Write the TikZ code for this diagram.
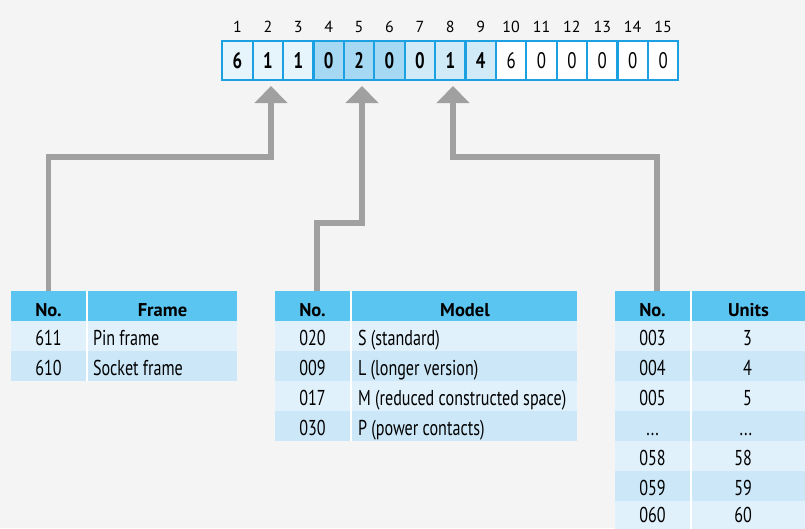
\documentclass[tikz,border=0pt]{standalone}
\usepackage{fontspec}
\setmainfont{PT Sans}[FakeStretch=0.75]
\newfontfamily\widefont{PT Sans}
\usetikzlibrary{arrows.meta,calc}
\definecolor{bg}{HTML}{F4F4F4}
\definecolor{cborder}{HTML}{1BA1E2}
\definecolor{hdr}{HTML}{5BC5F2}
\definecolor{rowA}{HTML}{E0F1FC}
\definecolor{rowB}{HTML}{CCE8F8}
\definecolor{fA}{HTML}{E6F4FC}
\definecolor{fB}{HTML}{A5D8F3}
\definecolor{fC}{HTML}{D0EAF8}
\definecolor{conncol}{HTML}{A0A0A0}
\begin{document}
\begin{tikzpicture}[x=1pt,y=-1pt,
  every node/.style={inner sep=0pt, outer sep=0pt},
  codecell/.style={draw=cborder, line width=2.3pt, minimum width=30.4pt, minimum height=39pt, text height=15.4pt, text depth=0pt},
  codebold/.style={font=\fontsize{22.5}{22.5}\selectfont\bfseries},
  codereg/.style={font=\fontsize{22.5}{22.5}\selectfont},
  idx/.style={font=\widefont\fontsize{16}{16}\selectfont, anchor=base},
  rowbg/.style={minimum height=30pt, minimum width=#1, anchor=north west},
  htext/.style={font=\widefont\fontsize{18.5}{18.5}\selectfont\bfseries, anchor=base, text depth=0pt},
  ctext/.style={font=\fontsize{21.5}{21.5}\selectfont, anchor=base, text depth=0pt},
  ltext/.style={font=\fontsize{21.5}{21.5}\selectfont, anchor=base west, text depth=0pt},
  rtext/.style={font=\fontsize{21.5}{21.5}\selectfont, anchor=base east, text depth=0pt},
  divider/.style={draw=white, line width=2pt},
  conn/.style={draw=conncol, line width=5.5pt, line join=miter,
    -{Triangle[width=32pt,length=17pt]}, shorten >=6pt}
]
\fill[bg] (0,0) rectangle (805,528);
\useasboundingbox (0,0) rectangle (805,528);

% ---- code boxes ----
\foreach \i/\d/\f in {1/6/fA,2/1/fA,3/1/fA,4/0/fB,5/2/fB,6/0/fB,7/0/fC,8/1/fC,9/4/fC}
  \node[codecell, codebold, fill=\f] (c\i) at ({222.3+30.4*(\i-0.5)},60.5) {\d};
\foreach \i/\d in {10/6,11/0,12/0,13/0,14/0,15/0}
  \node[codecell, codereg, fill=white] (c\i) at ({222.3+30.4*(\i-0.5)},60.5) {\d};
\foreach \i in {1,...,15}
  \node[idx] (n\i) at ({222.3+30.4*(\i-0.5)},32.7) {\i};

% ---- table 1 ----
\node[rowbg=226pt, fill=hdr]  (t1hdr) at (11,291) {};
\node[rowbg=226pt, fill=rowA] (t1r1) at (11,321) {};
\node[rowbg=226pt, fill=rowB] (t1r2) at (11,351) {};
\draw[divider] (t1hdr.north -| 87,0) -- (t1r2.south -| 87,0);
\node[htext] (t1no) at (48.5,316.5) {No.};
\node[htext] (t1h)  at (162.5,316.5) {Frame};
\node[ctext] (t1a1) at (48.5,345.5) {611};
\node[ltext] (t1b1) at (93,345.5) {Pin frame};
\node[ctext] (t1a2) at (48.5,375.5) {610};
\node[ltext] (t1b2) at (93,375.5) {Socket frame};

% ---- table 2 ----
\node[rowbg=302pt, fill=hdr]  (t2hdr) at (275,291) {};
\node[rowbg=302pt, fill=rowA] (t2r1) at (275,321) {};
\node[rowbg=302pt, fill=rowB] (t2r2) at (275,351) {};
\node[rowbg=302pt, fill=rowA] (t2r3) at (275,381) {};
\node[rowbg=302pt, fill=rowB] (t2r4) at (275,411) {};
\draw[divider] (t2hdr.north -| 351,0) -- (t2r4.south -| 351,0);
\node[htext] (t2no) at (312.5,316.5) {No.};
\node[htext] (t2h)  at (465,316.5) {Model};
\node[ctext] (t2a1) at (312.5,345.5) {020};
\node[ltext] (t2b1) at (358,345.5) {S (standard)};
\node[ctext] (t2a2) at (312.5,375.5) {009};
\node[ltext] (t2b2) at (358,375.5) {L (longer version)};
\node[ctext] (t2a3) at (312.5,405.5) {017};
\node[ltext] (t2b3) at (358,405.5) {M (reduced constructed space)};
\node[ctext] (t2a4) at (312.5,435.5) {030};
\node[ltext] (t2b4) at (358,435.5) {P (power contacts)};

% ---- table 3 ----
\node[rowbg=190pt, fill=hdr]  (t3hdr) at (615,291) {};
\node[rowbg=190pt, fill=rowA] (t3r1) at (615,321) {};
\node[rowbg=190pt, fill=rowB] (t3r2) at (615,351) {};
\node[rowbg=190pt, fill=rowA] (t3r3) at (615,381) {};
\node[rowbg=190pt, fill=rowB] (t3r4) at (615,411) {};
\node[rowbg=190pt, fill=rowA] (t3r5) at (615,441) {};
\node[rowbg=190pt, fill=rowB] (t3r6) at (615,471) {};
\node[rowbg=190pt, fill=rowA] (t3r7) at (615,501) {};
\draw[divider] (t3hdr.north -| 691,0) -- (t3r7.south -| 691,0);
\node[htext] (t3no) at (652.5,316.5) {No.};
\node[htext] (t3h)  at (748.5,316.5) {Units};
\node[ctext] (t3a1) at (652.5,345.5) {003};
\node[rtext] (t3b1) at (752,345.5) {3};
\node[ctext] (t3a2) at (652.5,375.5) {004};
\node[rtext] (t3b2) at (752,375.5) {4};
\node[ctext] (t3a3) at (652.5,405.5) {005};
\node[rtext] (t3b3) at (752,405.5) {5};
\node[ctext] (t3a4) at (652.5,435.5) {...};
\node[rtext] (t3b4) at (752,435.5) {...};
\node[ctext] (t3a5) at (652.5,465.5) {058};
\node[rtext] (t3b5) at (752,465.5) {58};
\node[ctext] (t3a6) at (652.5,495.5) {059};
\node[rtext] (t3b6) at (752,495.5) {59};
\node[ctext] (t3a7) at (652.5,522) {060};
\node[rtext] (t3b7) at (752,522) {60};

% ---- connectors ----
\coordinate (k1) at (271,157);
\coordinate (k2) at (362,223);
\coordinate (k3) at (453,157);
\draw[conn] (t1no |- t1hdr.north) |- (k1) -- (k1 |- c2.south);
\draw[conn] ($(t2no |- t2hdr.north)+(4.5,0)$) |- (k2) -- (k2 |- c5.south);
\draw[conn] ($(t3no |- t3hdr.north)+(4.5,0)$) |- (k3) -- (k3 |- c8.south);
\end{tikzpicture}
\end{document}
